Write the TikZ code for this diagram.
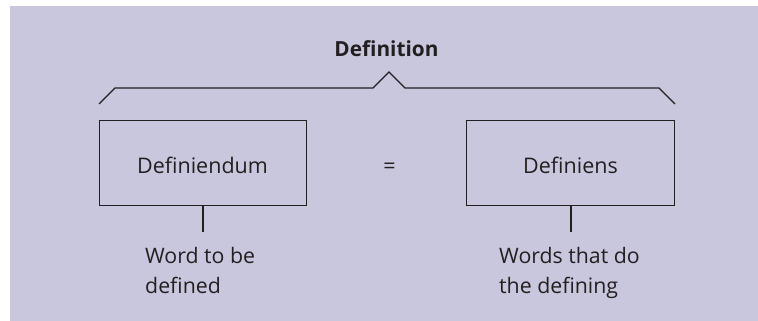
\documentclass[tikz,border=0pt]{standalone}
\usepackage{fontspec}
\setmainfont{Open Sans}
\definecolor{bgcol}{RGB}{201,199,222}
\definecolor{ink}{RGB}{35,31,32}
\begin{document}
\begin{tikzpicture}[x=1pt,y=-1pt,
  every node/.style={text=ink,inner sep=0pt},
  lbl/.style={font=\fontsize{21.5}{30}\selectfont},
  note/.style={font=\fontsize{21.3}{30}\selectfont,align=left,anchor=base west},
  boxline/.style={draw=ink,line width=1.2pt},
  link/.style={draw=ink,line width=1.2pt}]
\useasboundingbox (0,0) rectangle (758,321);
\fill[bgcol] (10,6) rectangle (758,321);
% boxes
\node[boxline,minimum width=207.5pt,minimum height=84.5pt] (dum) at (203,163) {};
\node[boxline,minimum width=208.5pt,minimum height=84.5pt] (ens) at (570.5,163) {};
\node[lbl,anchor=base] (dumt) at (202.5,173.7) {Definiendum};
\node[lbl,anchor=base] (enst) at (570.5,173.7) {Definiens};
\node[lbl,anchor=base] (eq) at (389.5,173.7) {=};
\node[font=\bfseries\fontsize{20.8}{24}\selectfont,anchor=base] (title) at (386.5,56.7) {Definition};
% bracket
\coordinate (b1) at (99,104);
\coordinate (b2) at (115,88);
\coordinate (b3) at (373,88);
\coordinate (b4) at (389,72);
\coordinate (b5) at (405,88);
\coordinate (b6) at (659,88);
\coordinate (b7) at (675,104);
\draw[link,line join=miter] (b1) -- (b2) -- (b3) -- (b4) -- (b5) -- (b6) -- (b7);
% stems
\coordinate (s1) at (203,232);
\coordinate (s2) at (571,232);
\draw[link] (dum.south -| s1) -- (s1);
\draw[link] (ens.south -| s2) -- (s2);
% notes
\node[note] (n1) at (145,293) {Word to be\\defined};
\node[note] (n2) at (499,293) {Words that do\\the defining};
\end{tikzpicture}
\end{document}
